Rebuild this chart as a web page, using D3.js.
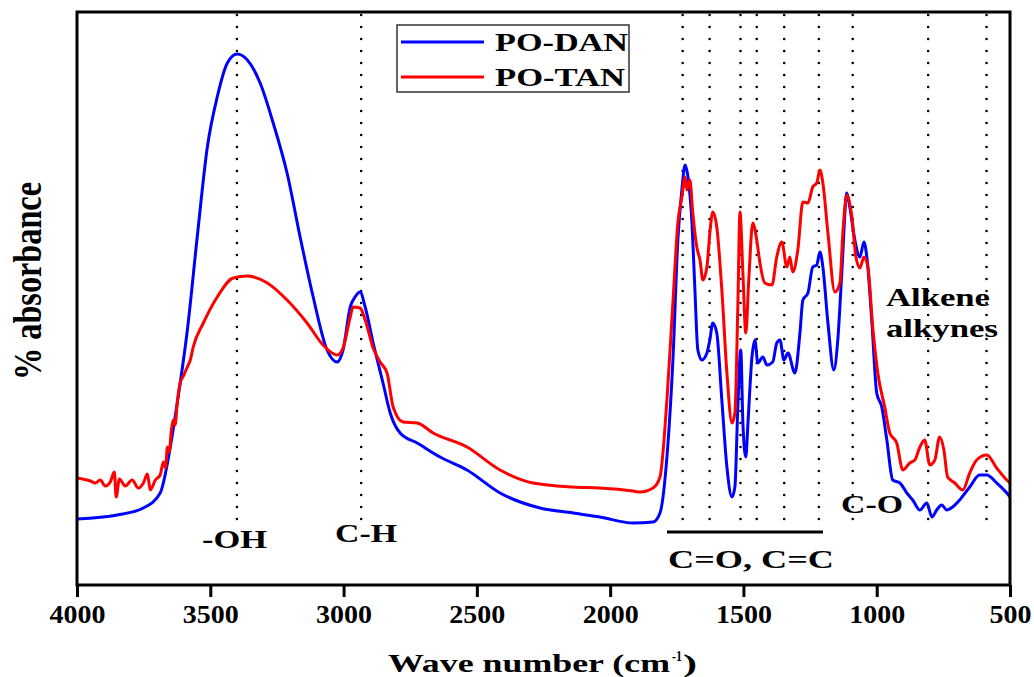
<!DOCTYPE html>
<html>
<meta charset="utf-8">
<head>
  <title>FTIR spectra</title>
</head>

<style>
body {
  margin: 0;
  background: #fff;
}
text {
  font-family: "Liberation Serif", "Times New Roman", serif;
  font-weight: bold;
  fill: #000;
}
.curve {
  fill: none;
  stroke-width: 3;
  stroke-linejoin: round;
}
.band {
  stroke: #000;
  stroke-width: 2.6;
  stroke-dasharray: 0,12;
  stroke-linecap: round;
}
</style>

<body>
  <svg width="1034" height="677"></svg>

  <script src="https://cdnjs.cloudflare.com/ajax/libs/d3/7.8.5/d3.min.js"></script>

  <script>
// wave numbers (cm-1) and absorbance (arb. units)
var danWn = [4000, 3849, 3751, 3688, 3650, 3624, 3586, 3549, 3511, 3474, 3436, 3399, 3361, 3313, 3264, 3212, 3163, 3114, 3062, 3024,
  3002, 2975, 2957, 2938, 2919, 2889, 2852, 2825, 2788, 2724, 2638, 2537, 2413, 2263, 2139, 2038, 1914, 1839, 1813, 1787,
  1764, 1746, 1731, 1719, 1708, 1693, 1682, 1671, 1656, 1637, 1626, 1615, 1600, 1581, 1562, 1543, 1532, 1521, 1510, 1502,
  1491, 1483, 1468, 1457, 1446, 1427, 1412, 1390, 1375, 1363, 1348, 1333, 1307, 1288, 1277, 1258, 1240, 1225, 1213, 1202,
  1183, 1161, 1146, 1131, 1112, 1101, 1082, 1063, 1048, 1037, 1018, 1000, 981, 962, 940, 913, 887, 865, 838, 812,
  793, 775, 756, 737, 715, 689, 651, 614, 587, 550, 512, 500]
var danAbs = [13.2, 14.0, 15.4, 18.4, 27.6, 36.4, 51.0, 69.6, 87.6, 97.6, 104.4, 106.2, 105.0, 100.4, 92.4, 82.4, 69.6, 57.6, 47.0, 44.6,
  47.0, 55.6, 57.6, 58.6, 55.6, 48.4, 40.4, 34.4, 30.4, 28.4, 25.6, 23.0, 18.4, 15.4, 14.4, 13.6, 12.4, 12.6, 14.4, 25.6,
  45.6, 69.0, 79.0, 84.0, 81.6, 72.4, 59.0, 47.0, 45.0, 46.4, 49.0, 52.4, 50.4, 37.0, 23.6, 17.6, 19.6, 35.6, 47.0, 32.4,
  25.6, 32.4, 45.6, 49.0, 44.4, 45.6, 44.0, 44.6, 48.4, 49.0, 45.0, 46.4, 42.4, 50.4, 57.0, 58.4, 63.6, 64.0, 66.6, 63.6,
  52.4, 43.0, 49.0, 62.4, 78.4, 75.6, 69.0, 65.6, 68.6, 65.6, 52.4, 38.4, 35.6, 29.0, 21.0, 20.4, 18.4, 17.0, 15.0, 16.4,
  13.6, 15.0, 16.0, 15.0, 15.6, 17.0, 19.6, 22.0, 22.0, 20.4, 18.4, 17.6]

var tanWn = [4000, 3950, 3931, 3913, 3894, 3875, 3860, 3853, 3841, 3819, 3793, 3770, 3751, 3736, 3725, 3706, 3688, 3676, 3668, 3661,
  3654, 3646, 3639, 3632, 3624, 3613, 3601, 3586, 3575, 3564, 3526, 3474, 3414, 3361, 3286, 3212, 3137, 3077, 3024, 3002,
  2975, 2964, 2938, 2919, 2889, 2863, 2837, 2814, 2777, 2724, 2664, 2537, 2413, 2289, 2139, 2038, 1914, 1888, 1839, 1813,
  1787, 1764, 1746, 1731, 1719, 1712, 1701, 1690, 1675, 1663, 1652, 1637, 1626, 1615, 1600, 1581, 1562, 1543, 1532, 1521,
  1513, 1502, 1491, 1480, 1465, 1450, 1438, 1420, 1393, 1375, 1356, 1337, 1326, 1315, 1296, 1277, 1258, 1240, 1225, 1213,
  1202, 1183, 1157, 1138, 1127, 1112, 1093, 1078, 1063, 1048, 1033, 1015, 996, 970, 951, 925, 902, 876, 857, 838,
  820, 801, 782, 764, 748, 734, 707, 677, 651, 625, 587, 550, 512, 500]
var tanAbs = [21.4, 20.8, 20.4, 21.0, 19.8, 20.6, 22.6, 17.6, 21.2, 19.8, 21.0, 19.4, 20.4, 22.2, 19.0, 21.0, 22.0, 24.6, 23.4, 27.6,
  26.6, 31.0, 33.0, 32.0, 36.4, 40.4, 41.8, 43.6, 45.0, 47.6, 52.4, 57.6, 61.4, 61.8, 60.4, 57.0, 52.4, 48.0, 46.0, 47.4,
  53.6, 55.6, 55.4, 53.0, 47.4, 44.6, 42.4, 35.6, 32.6, 32.4, 30.4, 27.6, 23.0, 20.4, 19.6, 19.4, 18.8, 18.6, 19.4, 21.6,
  37.0, 57.0, 72.4, 77.6, 81.6, 79.0, 81.0, 74.4, 67.6, 65.0, 61.0, 63.6, 70.4, 74.6, 71.6, 59.0, 42.4, 32.4, 34.4, 55.6,
  74.6, 62.4, 50.4, 61.0, 72.4, 69.0, 64.4, 60.4, 60.0, 65.6, 68.6, 63.6, 65.6, 62.6, 67.0, 76.6, 76.4, 79.6, 80.4, 83.0,
  80.4, 70.4, 58.6, 60.4, 70.4, 78.0, 73.6, 65.6, 63.4, 65.6, 63.6, 51.6, 42.4, 35.6, 30.4, 28.4, 23.0, 24.4, 25.0, 27.6,
  29.0, 24.0, 25.0, 29.6, 27.0, 21.6, 20.4, 19.0, 22.4, 25.0, 26.0, 23.4, 21.0, 20.4]

var xTicks = [4000, 3500, 3000, 2500, 2000, 1500, 1000, 500]
var bands = [3400, 2934, 1728, 1627, 1511, 1450, 1347, 1217, 1090, 807, 588]
var seriesNames = ['PO-DAN', 'PO-TAN']
var seriesColors = ['#0000ff', '#ff0000']

var svg = d3.select('svg')
var plotLeft = 77, plotRight = 1010, plotTop = 12, plotBottom = 585

var x = d3.scaleLinear().domain([4000, 500]).range([plotLeft, plotRight])
var y = d3.scaleLinear().domain([0, 114.6]).range([plotBottom, plotTop])

// dotted band markers
svg.append('g')
  .selectAll('line')
  .data(bands)
  .enter()
  .append('line')
  .attr('class', 'band')
  .attr('x1', function(d) { return x(d) })
  .attr('x2', function(d) { return x(d) })
  .attr('y1', 519)
  .attr('y2', 14)

var line = d3.line()
  .x(function(d) { return x(d[0]) })
  .y(function(d) { return y(d[1]) })
  .curve(d3.curveMonotoneX)

var dan = d3.zip(danWn, danAbs)
var tan = d3.zip(tanWn, tanAbs)

svg.append('path').datum(dan).attr('class', 'curve').attr('stroke', seriesColors[0]).attr('d', line)
svg.append('path').datum(tan).attr('class', 'curve').attr('stroke', seriesColors[1]).attr('d', line)

// frame
svg.append('rect')
  .attr('x', plotLeft).attr('y', plotTop)
  .attr('width', plotRight - plotLeft).attr('height', plotBottom - plotTop)
  .attr('fill', 'none').attr('stroke', '#000').attr('stroke-width', 3)

// x axis
var xAxis = d3.axisBottom(x).tickValues(xTicks).tickFormat(d3.format('d')).tickSize(12).tickPadding(10)
var gx = svg.append('g').attr('transform', 'translate(0,' + plotBottom + ')').call(xAxis)
gx.select('.domain').remove()
gx.selectAll('.tick line').attr('stroke', '#000').attr('stroke-width', 3)
gx.selectAll('.tick text')
  .attr('y', 38)
  .attr('dy', null)
  .style('font-size', '25px')
  .style('font-family', '"Liberation Serif", serif')
  .style('font-weight', 'bold')
  .attr('textLength', function(d) { return String(d).length * 14 })
  .attr('lengthAdjust', 'spacingAndGlyphs')

function label(txt, x0, yb, w, size) {
  return svg.append('text')
    .attr('x', x0).attr('y', yb)
    .attr('textLength', w)
    .attr('lengthAdjust', 'spacingAndGlyphs')
    .style('font-size', size + 'px')
    .text(txt)
}

// axis titles
label('Wave number (cm', 388, 672, 282, 26)
label('-1', 672, 661, 10, 15)
label(')', 683, 672, 14, 26)

svg.append('text')
  .attr('transform', 'translate(41,281) rotate(-90) scale(1,1.4)')
  .attr('text-anchor', 'middle')
  .attr('textLength', 198)
  .attr('lengthAdjust', 'spacingAndGlyphs')
  .style('font-size', '29px')
  .text('% absorbance')

// band labels
label('-OH', 202, 548, 65, 26)
label('C-H', 335, 542, 62, 26)
label('C=O, C=C', 668, 568, 166, 26)
label('C-O', 841, 513, 62, 26)
label('Alkene', 886, 306, 104, 26)
label('alkynes', 886, 337, 112, 26)

svg.append('line')
  .attr('x1', 667).attr('x2', 823)
  .attr('y1', 532).attr('y2', 532)
  .attr('stroke', '#000').attr('stroke-width', 3)

// legend
var legend = svg.append('g')
legend.append('rect')
  .attr('x', 397).attr('y', 25).attr('width', 232).attr('height', 67)
  .attr('fill', '#fff').attr('stroke', '#333').attr('stroke-width', 1.5)
seriesNames.forEach(function(name, i) {
  var ly = 42 + i * 35
  legend.append('line')
    .attr('x1', 401).attr('x2', 484).attr('y1', ly).attr('y2', ly)
    .attr('stroke', seriesColors[i]).attr('stroke-width', 3)
  legend.append('text')
    .attr('x', 495).attr('y', ly + 9)
    .attr('textLength', i == 0 ? 133 : 130)
    .attr('lengthAdjust', 'spacingAndGlyphs')
    .style('font-size', '26px')
    .text(name)
})
  </script>
</body>
</html>
